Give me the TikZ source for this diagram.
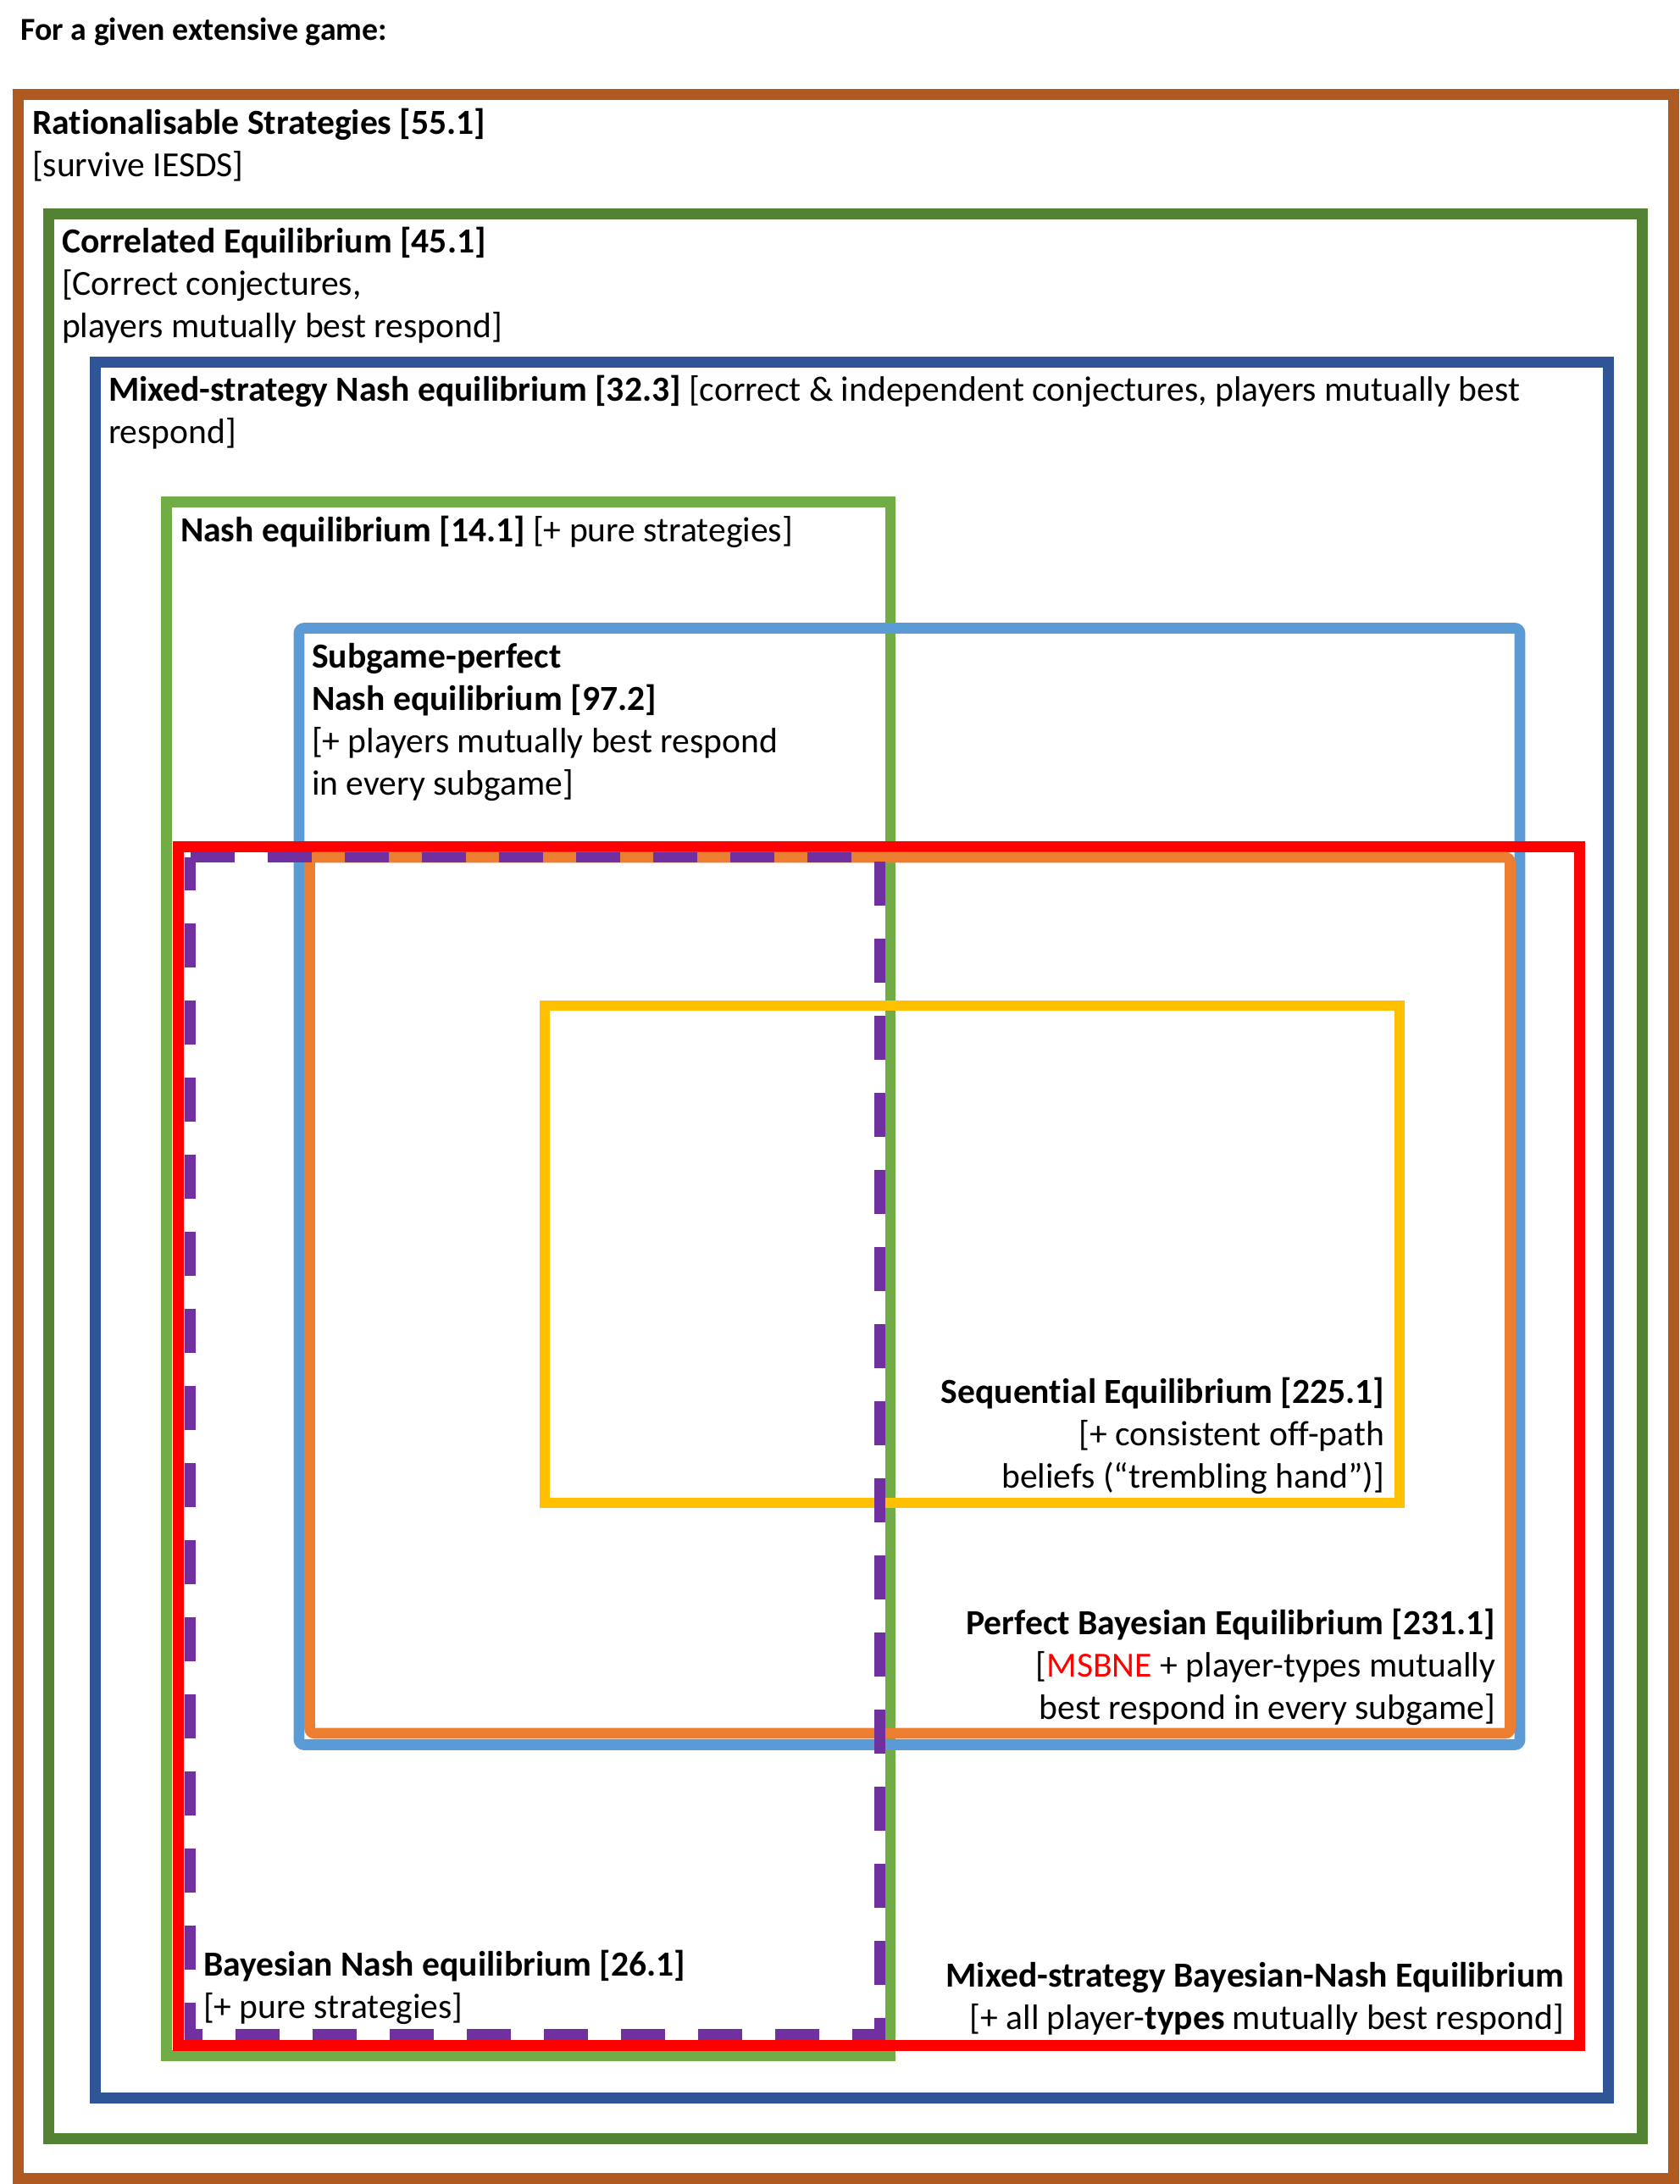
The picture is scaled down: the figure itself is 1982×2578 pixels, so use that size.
\documentclass[tikz,border=0pt]{standalone}
\usepackage{fontspec}
\setmainfont[Ligatures=NoCommon]{Carlito}
\usetikzlibrary{positioning}
\definecolor{cbrown}{HTML}{AE5A21}
\definecolor{cdgreen}{HTML}{548235}
\definecolor{cdblue}{HTML}{2F5597}
\definecolor{clgreen}{HTML}{70AD47}
\definecolor{clblue}{HTML}{5B9BD5}
\definecolor{cred}{HTML}{FF0000}
\definecolor{corange}{HTML}{ED7D31}
\definecolor{cyellow}{HTML}{FFC000}
\definecolor{cpurple}{HTML}{7030A0}
\tikzset{
  setbox/.style={line width=12.7pt, miter limit=10},
  lbl/.style={inner sep=0pt, outer sep=0pt, font=\fontsize{41.6}{50}\selectfont},
  lblL/.style={lbl, anchor=base west, align=left},
  lblR/.style={lbl, anchor=base east, align=right},
}
\begin{document}
\begin{tikzpicture}[x=1pt,y=-1pt]
\useasboundingbox (0,0) rectangle (1982,2578);
\fill[white] (0,0) rectangle (1982,2578);
% boxes
\draw[setbox, cbrown]  (21.5,111.5) rectangle (1975.5,2571.5);
\draw[setbox, cdgreen] (57.5,252.5) rectangle (1938.5,2524.5);
\draw[setbox, cdblue]  (112.5,427.5) rectangle (1898.5,2476.5);
\draw[setbox, clgreen] (196.5,592.5) rectangle (1051,2426.5);
\draw[setbox, clblue, rounded corners=6pt] (353,741.5) rectangle (1794,2059.5);
\draw[setbox, cred]    (210.5,999.5) rectangle (1864.5,2414.5);
\draw[setbox, corange, rounded corners=6pt] (365.5,1012) rectangle (1782.5,2046);
\draw[setbox, cyellow] (643,1187) rectangle (1652,1774);
\draw[setbox, cpurple, dash pattern=on 52pt off 39pt] (224.5,1012) -- (1038.5,1012) -- (1038.5,2401.5) -- (224.5,2401.5) -- cycle;
% labels (base anchor = baseline of the last line)
\node[inner sep=0pt, anchor=base west, font=\fontsize{37.8}{45}\selectfont\bfseries] (title) at (24.5,47) {For a given extensive game:};
\node[lblL] (rat) at (38,208) {\textbf{Rationalisable Strategies [55.1]}\\{[survive IESDS]}};
\node[lblL] (corr) at (73,398) {\textbf{Correlated Equilibrium [45.1]}\\{[Correct conjectures,}\\{players mutually best respond]}};
\node[lblL] (msne) at (128,523) {\textbf{Mixed-strategy Nash equilibrium [32.3]} [correct \& independent conjectures, players mutually best\\{respond]}};
\node[lblL] (ne) at (213,639) {\textbf{Nash equilibrium [14.1]} [+ pure strategies]};
\node[lblL] (spne) at (368,938) {\textbf{Subgame-perfect}\\\textbf{Nash equilibrium [97.2]}\\{[+ players mutually best respond}\\{in every subgame]}};
\node[lblR] (seq) at (1634,1756) {\textbf{Sequential Equilibrium [225.1]}\\{[+ consistent off-path}\\{beliefs (“trembling hand”)]}};
\node[lblR] (pbe) at (1765,2029) {\textbf{Perfect Bayesian Equilibrium [231.1]}\\{[\textcolor{cred}{MSBNE} + player-types mutually}\\{best respond in every subgame]}};
\node[lblL] (bne) at (240,2382) {\textbf{Bayesian Nash equilibrium [26.1]}\\{[+ pure strategies]}};
\node[lblR] (msbne) at (1846,2395) {\textbf{Mixed-strategy Bayesian-Nash Equilibrium}\\{[+ all player-\textbf{types} mutually best respond]}};
\end{tikzpicture}
\end{document}
